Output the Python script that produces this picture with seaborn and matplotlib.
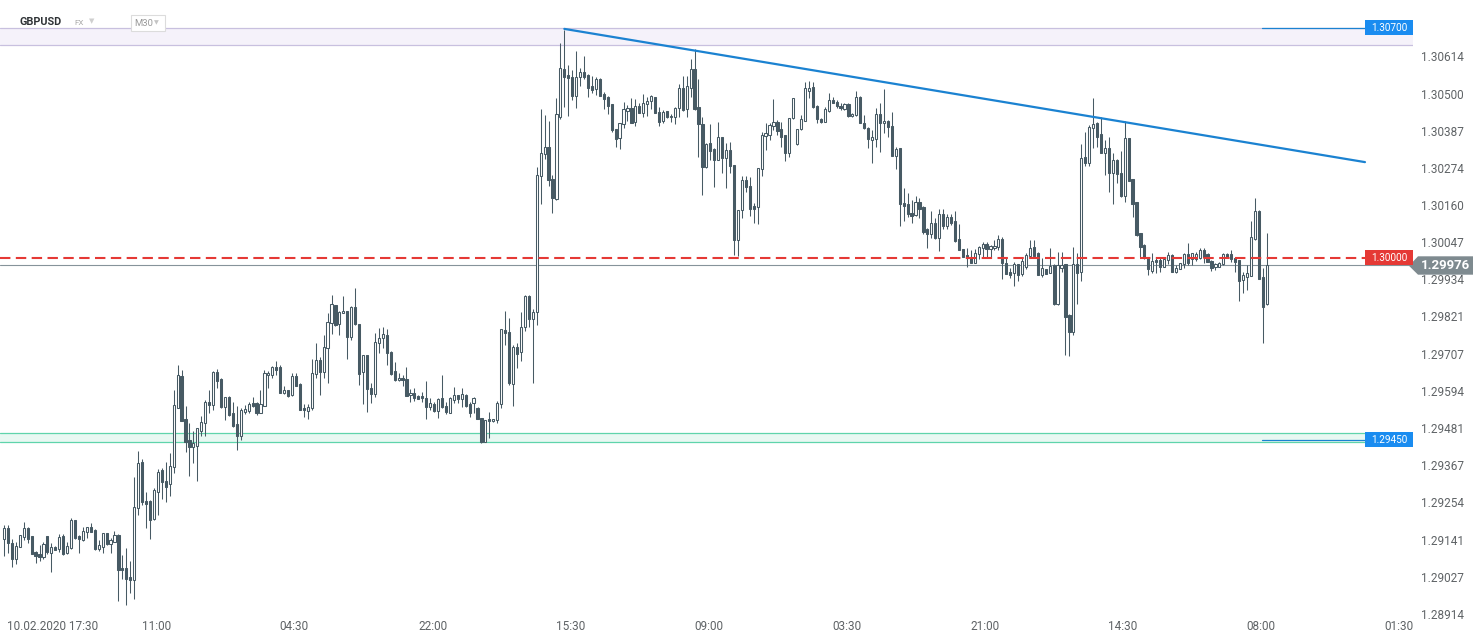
import numpy as np
import matplotlib
matplotlib.use("Agg")
import matplotlib.pyplot as plt
import seaborn as sns
from matplotlib.patches import Rectangle, Polygon
from matplotlib.transforms import blended_transform_factory

# ---------------- data (GBPUSD, M30 candles) ----------------
opens = [
1.29144,1.29175,1.29130,1.29083,1.29118,1.29150,1.29175,1.29151,1.29102,1.29096,
1.29089,1.29151,1.29099,1.29118,1.29111,1.29151,1.29099,1.29114,1.29199,1.29151,
1.29140,1.29165,1.29178,1.29170,1.29113,1.29119,1.29160,1.29128,1.29134,1.29155,
1.29054,1.29054,1.29027,1.29017,1.29238,1.29377,1.29258,1.29258,1.29205,1.29287,
1.29352,1.29318,1.29309,1.29363,1.29543,1.29639,1.29508,1.29444,1.29424,1.29427,
1.29473,1.29495,1.29560,1.29552,1.29651,1.29630,1.29546,1.29575,1.29526,1.29493,
1.29455,1.29531,1.29534,1.29557,1.29557,1.29528,1.29549,1.29641,1.29643,1.29666,
1.29666,1.29588,1.29596,1.29581,1.29638,1.29615,1.29542,1.29534,1.29541,1.29645,
1.29688,1.29651,1.29724,1.29800,1.29856,1.29797,1.29830,1.29837,1.29759,1.29849,
1.29798,1.29651,1.29702,1.29603,1.29585,1.29739,1.29754,1.29764,1.29713,1.29654,
1.29626,1.29634,1.29630,1.29581,1.29588,1.29578,1.29578,1.29572,1.29544,1.29553,
1.29534,1.29571,1.29548,1.29528,1.29567,1.29581,1.29569,1.29582,1.29554,1.29556,
1.29543,1.29510,1.29439,1.29508,1.29501,1.29505,1.29554,1.29780,1.29773,1.29615,
1.29727,1.29713,1.29788,1.29883,1.29812,1.29833,1.30249,1.30316,1.30337,1.30240,
1.30178,1.30429,1.30574,1.30557,1.30551,1.30493,1.30550,1.30567,1.30557,1.30524,
1.30513,1.30544,1.30499,1.30489,1.30467,1.30392,1.30365,1.30406,1.30448,1.30456,
1.30412,1.30463,1.30442,1.30468,1.30476,1.30489,1.30444,1.30416,1.30446,1.30428,
1.30429,1.30455,1.30516,1.30454,1.30518,1.30574,1.30458,1.30406,1.30277,1.30348,
1.30331,1.30297,1.30367,1.30305,1.30329,1.30281,1.30054,1.30144,1.30235,1.30218,
1.30157,1.30153,1.30269,1.30371,1.30374,1.30402,1.30412,1.30392,1.30374,1.30320,
1.30424,1.30345,1.30392,1.30417,1.30509,1.30521,1.30462,1.30422,1.30414,1.30448,
1.30480,1.30475,1.30462,1.30454,1.30468,1.30432,1.30434,1.30490,1.30411,1.30394,
1.30358,1.30362,1.30438,1.30409,1.30417,1.30401,1.30311,1.30333,1.30166,1.30163,
1.30135,1.30129,1.30169,1.30155,1.30087,1.30071,1.30105,1.30061,1.30132,1.30097,
1.30123,1.30112,1.30057,1.30025,1.30009,1.30003,1.29985,1.30010,1.30028,1.30042,
1.30025,1.30028,1.30031,1.30058,1.29985,1.29955,1.29952,1.29981,1.29950,1.29971,
1.30005,1.30032,1.30013,1.29947,1.29965,1.29954,1.29977,1.29859,1.29969,1.29981,
1.29825,1.29773,1.29980,1.29955,1.30306,1.30287,1.30394,1.30411,1.30376,1.30320,
1.30333,1.30259,1.30298,1.30259,1.30189,1.30364,1.30240,1.30169,1.30074,1.30039,
1.30001,1.29960,1.29993,1.29993,1.29972,1.29993,1.30008,1.29957,1.29965,1.29980,
1.30011,1.29996,1.29995,1.29998,1.30023,1.30011,1.29991,1.29971,1.29972,1.29980,
1.30011,1.30011,1.29998,1.29993,1.29932,1.29940,1.29945,1.30056,1.30142,1.29940,
1.29858]

highs = [
1.29185,1.29185,1.29143,1.29133,1.29155,1.29194,1.29178,1.29152,1.29106,1.29124,
1.29134,1.29152,1.29131,1.29121,1.29157,1.29158,1.29134,1.29206,1.29201,1.29156,
1.29178,1.29178,1.29191,1.29173,1.29140,1.29160,1.29161,1.29147,1.29166,1.29157,
1.29094,1.29116,1.29076,1.29332,1.29411,1.29386,1.29287,1.29262,1.29299,1.29356,
1.29359,1.29377,1.29405,1.29597,1.29673,1.29658,1.29548,1.29495,1.29472,1.29480,
1.29517,1.29566,1.29597,1.29655,1.29661,1.29633,1.29575,1.29578,1.29561,1.29548,
1.29541,1.29551,1.29561,1.29576,1.29561,1.29597,1.29658,1.29653,1.29670,1.29685,
1.29673,1.29609,1.29597,1.29649,1.29649,1.29618,1.29553,1.29553,1.29691,1.29739,
1.29696,1.29763,1.29831,1.29886,1.29857,1.29838,1.29883,1.29838,1.29853,1.29908,
1.29799,1.29702,1.29703,1.29617,1.29769,1.29785,1.29788,1.29782,1.29714,1.29681,
1.29648,1.29643,1.29668,1.29600,1.29603,1.29582,1.29590,1.29624,1.29571,1.29559,
1.29573,1.29642,1.29561,1.29576,1.29606,1.29582,1.29602,1.29583,1.29561,1.29576,
1.29546,1.29511,1.29505,1.29531,1.29508,1.29564,1.29782,1.29838,1.29815,1.29734,
1.29739,1.29835,1.29886,1.29885,1.29843,1.30277,1.30453,1.30435,1.30417,1.30252,
1.30486,1.30653,1.30694,1.30587,1.30572,1.30630,1.30579,1.30614,1.30558,1.30553,
1.30550,1.30546,1.30506,1.30491,1.30468,1.30393,1.30409,1.30475,1.30465,1.30486,
1.30483,1.30470,1.30499,1.30489,1.30495,1.30490,1.30458,1.30450,1.30447,1.30438,
1.30458,1.30528,1.30553,1.30553,1.30604,1.30635,1.30543,1.30429,1.30350,1.30407,
1.30333,1.30412,1.30368,1.30350,1.30353,1.30282,1.30145,1.30249,1.30249,1.30247,
1.30166,1.30272,1.30384,1.30411,1.30409,1.30484,1.30419,1.30414,1.30375,1.30425,
1.30486,1.30392,1.30435,1.30536,1.30538,1.30536,1.30464,1.30425,1.30460,1.30501,
1.30490,1.30480,1.30470,1.30472,1.30470,1.30440,1.30509,1.30493,1.30435,1.30399,
1.30389,1.30455,1.30470,1.30513,1.30419,1.30445,1.30336,1.30334,1.30211,1.30196,
1.30176,1.30188,1.30181,1.30156,1.30091,1.30142,1.30122,1.30148,1.30148,1.30132,
1.30132,1.30142,1.30103,1.30026,1.30028,1.30023,1.30025,1.30035,1.30049,1.30049,
1.30039,1.30054,1.30069,1.30064,1.30003,1.29968,1.29988,1.29982,1.30003,1.30015,
1.30054,1.30054,1.30018,1.29998,1.29966,1.30030,1.29981,1.30018,1.30018,1.29982,
1.29828,1.30031,1.30013,1.30346,1.30382,1.30404,1.30487,1.30414,1.30429,1.30358,
1.30369,1.30318,1.30299,1.30326,1.30416,1.30365,1.30241,1.30170,1.30075,1.30040,
1.30002,1.30013,1.30000,1.29998,1.30000,1.30016,1.30010,1.29978,1.29984,1.30015,
1.30044,1.30015,1.30017,1.30030,1.30028,1.30013,1.29992,1.29985,1.29988,1.30013,
1.30013,1.30023,1.29999,1.29994,1.29957,1.29978,1.30112,1.30183,1.30144,1.29968,
1.30074]

lows = [
1.29092,1.29101,1.29058,1.29067,1.29117,1.29140,1.29130,1.29097,1.29070,1.29077,
1.29083,1.29096,1.29043,1.29108,1.29103,1.29094,1.29097,1.29112,1.29143,1.29101,
1.29137,1.29147,1.29164,1.29109,1.29105,1.29101,1.29124,1.29101,1.29133,1.28955,
1.29021,1.28940,1.28979,1.28961,1.29217,1.29246,1.29177,1.29143,1.29202,1.29217,
1.29264,1.29254,1.29275,1.29343,1.29542,1.29502,1.29409,1.29335,1.29375,1.29320,
1.29457,1.29457,1.29528,1.29536,1.29604,1.29543,1.29505,1.29516,1.29483,1.29415,
1.29444,1.29524,1.29526,1.29546,1.29519,1.29527,1.29548,1.29604,1.29634,1.29643,
1.29588,1.29584,1.29574,1.29578,1.29609,1.29536,1.29515,1.29509,1.29536,1.29634,
1.29582,1.29634,1.29617,1.29766,1.29792,1.29764,1.29830,1.29691,1.29749,1.29796,
1.29612,1.29555,1.29531,1.29556,1.29576,1.29709,1.29724,1.29673,1.29642,1.29624,
1.29624,1.29610,1.29578,1.29559,1.29564,1.29569,1.29560,1.29507,1.29536,1.29531,
1.29512,1.29543,1.29524,1.29527,1.29558,1.29556,1.29546,1.29546,1.29515,1.29528,
1.29507,1.29434,1.29438,1.29450,1.29500,1.29495,1.29541,1.29734,1.29612,1.29549,
1.29665,1.29686,1.29777,1.29790,1.29617,1.29795,1.30163,1.30300,1.30218,1.30137,
1.30176,1.30422,1.30460,1.30433,1.30480,1.30455,1.30523,1.30543,1.30490,1.30503,
1.30495,1.30491,1.30452,1.30437,1.30384,1.30338,1.30331,1.30394,1.30417,1.30410,
1.30402,1.30440,1.30428,1.30432,1.30452,1.30441,1.30402,1.30411,1.30424,1.30412,
1.30406,1.30429,1.30448,1.30429,1.30490,1.30451,1.30306,1.30191,1.30274,1.30297,
1.30216,1.30296,1.30259,1.30211,1.30257,1.30008,1.30006,1.30120,1.30199,1.30128,
1.30105,1.30102,1.30249,1.30328,1.30358,1.30389,1.30374,1.30338,1.30295,1.30308,
1.30422,1.30343,1.30389,1.30416,1.30486,1.30457,1.30409,1.30410,1.30413,1.30445,
1.30470,1.30455,1.30450,1.30450,1.30429,1.30428,1.30433,1.30409,1.30392,1.30333,
1.30289,1.30336,1.30323,1.30379,1.30369,1.30310,1.30270,1.30097,1.30113,1.30125,
1.30106,1.30127,1.30120,1.30072,1.30028,1.30059,1.30058,1.30021,1.30087,1.30086,
1.30099,1.30049,1.30022,1.30002,1.29972,1.29984,1.29983,1.29997,1.30003,1.30001,
1.30003,1.30023,1.30023,1.29935,1.29949,1.29937,1.29915,1.29929,1.29944,1.29964,
1.30000,1.30003,1.29946,1.29940,1.29949,1.29953,1.29857,1.29857,1.29957,1.29703,
1.29700,1.29764,1.29859,1.29930,1.30280,1.30280,1.30333,1.30338,1.30319,1.30252,
1.30201,1.30163,1.30228,1.30186,1.30170,1.30233,1.30125,1.30067,1.30001,1.29995,
1.29947,1.29954,1.29952,1.29957,1.29971,1.29981,1.29956,1.29952,1.29964,1.29968,
1.29978,1.29978,1.29989,1.29996,1.29983,1.29987,1.29960,1.29962,1.29971,1.29978,
1.29998,1.29988,1.29957,1.29869,1.29891,1.29901,1.29944,1.30055,1.29934,1.29741,
1.29856]

closes = [
1.29175,1.29130,1.29081,1.29120,1.29154,1.29175,1.29142,1.29098,1.29091,1.29089,
1.29126,1.29103,1.29117,1.29110,1.29148,1.29098,1.29120,1.29201,1.29145,1.29142,
1.29166,1.29178,1.29165,1.29113,1.29124,1.29160,1.29126,1.29140,1.29154,1.29049,
1.29047,1.29022,1.29017,1.29240,1.29374,1.29256,1.29250,1.29201,1.29292,1.29347,
1.29317,1.29302,1.29364,1.29550,1.29641,1.29503,1.29437,1.29424,1.29434,1.29480,
1.29500,1.29560,1.29552,1.29652,1.29625,1.29546,1.29575,1.29521,1.29487,1.29455,
1.29536,1.29539,1.29553,1.29548,1.29528,1.29553,1.29649,1.29649,1.29666,1.29659,
1.29588,1.29596,1.29579,1.29638,1.29610,1.29537,1.29535,1.29544,1.29648,1.29688,
1.29652,1.29727,1.29803,1.29859,1.29795,1.29833,1.29837,1.29759,1.29849,1.29797,
1.29646,1.29702,1.29599,1.29585,1.29743,1.29754,1.29766,1.29709,1.29646,1.29626,
1.29634,1.29626,1.29579,1.29588,1.29573,1.29570,1.29571,1.29544,1.29556,1.29534,
1.29569,1.29544,1.29531,1.29572,1.29581,1.29570,1.29584,1.29549,1.29528,1.29571,
1.29508,1.29439,1.29505,1.29501,1.29508,1.29556,1.29782,1.29769,1.29617,1.29727,
1.29706,1.29788,1.29883,1.29813,1.29833,1.30252,1.30318,1.30337,1.30237,1.30181,
1.30437,1.30577,1.30550,1.30546,1.30493,1.30551,1.30567,1.30550,1.30518,1.30511,
1.30544,1.30493,1.30484,1.30463,1.30388,1.30361,1.30409,1.30452,1.30456,1.30411,
1.30463,1.30442,1.30470,1.30477,1.30493,1.30442,1.30414,1.30445,1.30428,1.30433,
1.30455,1.30516,1.30449,1.30523,1.30574,1.30452,1.30406,1.30277,1.30345,1.30325,
1.30298,1.30367,1.30303,1.30329,1.30280,1.30054,1.30145,1.30235,1.30216,1.30149,
1.30149,1.30272,1.30374,1.30381,1.30404,1.30412,1.30387,1.30369,1.30318,1.30425,
1.30486,1.30392,1.30422,1.30516,1.30516,1.30458,1.30422,1.30414,1.30452,1.30480,
1.30472,1.30462,1.30455,1.30468,1.30432,1.30438,1.30490,1.30409,1.30394,1.30361,
1.30369,1.30438,1.30409,1.30417,1.30397,1.30311,1.30330,1.30163,1.30158,1.30132,
1.30127,1.30169,1.30149,1.30079,1.30071,1.30105,1.30059,1.30132,1.30097,1.30123,
1.30106,1.30052,1.30023,1.30003,1.29999,1.29985,1.30013,1.30031,1.30042,1.30025,
1.30035,1.30035,1.30058,1.29983,1.29950,1.29947,1.29981,1.29947,1.29990,1.30007,
1.30030,1.30005,1.29947,1.29968,1.29950,1.29975,1.29859,1.29977,1.29977,1.29820,
1.29774,1.29980,1.29952,1.30303,1.30287,1.30397,1.30406,1.30369,1.30320,1.30333,
1.30257,1.30298,1.30254,1.30188,1.30364,1.30234,1.30163,1.30069,1.30033,1.30001,
1.29964,1.29991,1.29986,1.29972,1.29995,1.30008,1.29957,1.29968,1.29983,1.30011,
1.29983,1.30013,1.30011,1.30023,1.30003,1.29988,1.29968,1.29981,1.29985,1.30011,
1.30003,1.29995,1.29988,1.29930,1.29947,1.29952,1.30062,1.30142,1.29935,1.29850,
1.29976]

price_ticks = [1.28914, 1.29027, 1.29141, 1.29254, 1.29367, 1.29481, 1.29594, 1.29707,
               1.29821, 1.29934, 1.30047, 1.30160, 1.30274, 1.30387, 1.30500, 1.30614]
time_labels = ["10.02.2020 17:30", "11:00", "04:30", "22:00", "15:30", "09:00",
               "03:30", "21:00", "14:30", "08:00", "01:30"]
time_tick_bars = [12.4, 38.6, 73.6, 108.6, 143.6, 178.6, 213.6, 248.6, 283.6, 318.6, 353.6]

resistance_zone = [1.30648, 1.30700]
support_zone = [1.29437, 1.29467]
resistance_level = 1.30700
support_level = 1.29445
support_label = "1.29450"
round_level = 1.30000
last_price = 1.29976
trend_x = [142, 344.9]
trend_y = [1.30697, 1.30291]
level_line_x = [318.8, 344.9]

# ---------------- style ----------------
sns.set_theme(style="white")
plt.rcParams['font.family'] = ['Roboto', 'DejaVu Sans']

CANDLE = '#475a64'
BLUE = '#1b82d1'
RED = '#e53935'
GREY = '#86939a'
TXT = '#5f6366'

W, H = 1482, 643
fig = plt.figure(figsize=(W / 100, H / 100), dpi=100)
fig.patch.set_facecolor('white')
ax = fig.add_axes([0, 28 / H, 1413 / W, 615 / H])
ax.set_facecolor('white')

x0, x1 = -1.014, 357.07
ax.set_xlim(x0, x1)
ax.set_ylim(1.28911, 1.30785)

# zones
ax.axhspan(resistance_zone[0], resistance_zone[1], color='#f5f2fa', lw=0, zorder=0.5)
for v in resistance_zone:
    ax.axhline(v, color='#c8c0df', lw=0.9, zorder=0.6)
ax.axhspan(support_zone[0], support_zone[1], color='#e8f8f2', lw=0, zorder=0.5)
for v in support_zone:
    ax.axhline(v, color='#5fd4ab', lw=0.9, zorder=0.6)

# last-price line
ax.axhline(last_price, color=GREY, lw=0.8, zorder=1)

# candles
o = np.array(opens); h = np.array(highs); l = np.array(lows); c = np.array(closes)
xs = np.arange(len(c))
up = c >= o
ax.vlines(xs, l, h, color=CANDLE, lw=0.75, zorder=3)
bottom = np.minimum(o, c)
height = np.maximum(np.abs(c - o), 0.00002)
ax.bar(xs[up], height[up], bottom=bottom[up], width=0.55, facecolor='white',
       edgecolor=CANDLE, linewidth=0.75, zorder=4)
ax.bar(xs[~up], height[~up], bottom=bottom[~up], width=0.55, facecolor=CANDLE,
       edgecolor=CANDLE, linewidth=0.75, zorder=4)

# round level (red dashed)
ax.plot([x0, trend_x[1]], [round_level, round_level], color=RED, lw=1.5,
        ls=(0, (5, 2.6)), zorder=5)

# trend line
sns.lineplot(x=trend_x, y=trend_y, ax=ax, color=BLUE, lw=1.6, zorder=6)

# short horizontal levels
ax.plot(level_line_x, [resistance_level] * 2, color=BLUE, lw=0.9, zorder=6)
ax.plot(level_line_x, [support_level] * 2, color=BLUE, lw=0.9, zorder=6)

# current price tag (right of the plot, outside axes)
tr = blended_transform_factory(fig.transFigure, ax.transData)
gh = 0.00028
poly = Polygon([(1409 / W, last_price - 0.00001), (1418 / W, last_price + gh),
                (1473 / W, last_price + gh), (1473 / W, last_price - gh),
                (1418 / W, last_price - gh)], closed=True, transform=tr,
               facecolor='#7e8a8f', edgecolor='none', clip_on=False, zorder=20)
ax.add_patch(poly)
ax.text(1445 / W, last_price, "1.29976", transform=tr, color='white', fontsize=9.5,
        fontweight='bold', ha='center', va='center', clip_on=False, zorder=21)

# price label boxes inside plot
bh = 0.00046
for val, txt, col in [(resistance_level, "1.30700", '#1a8cf0'),
                      (round_level, "1.30000", RED),
                      (support_level, support_label, '#1a8cf0')]:
    ax.add_patch(Rectangle((trend_x[1], val - bh / 2), x1 - trend_x[1], bh,
                           facecolor=col, edgecolor='none', zorder=22, clip_on=False))
    ax.text((trend_x[1] + x1) / 2, val, txt, color='white', fontsize=7.2,
            ha='center', va='center', zorder=23)

# axes ticks
ax.yaxis.tick_right()
ax.set_yticks(price_ticks)
ax.set_yticklabels([f"{v:.5f}" for v in price_ticks])
ax.set_xticks(time_tick_bars)
ax.set_xticklabels(time_labels)
ax.tick_params(axis='y', length=0, pad=6, labelsize=8.5, labelcolor=TXT)
ax.tick_params(axis='x', length=0, pad=3.5, labelsize=8.5, labelcolor=TXT)
for s in ax.spines.values():
    s.set_visible(False)
ax.grid(False)
ax.set_xlabel('')
ax.set_ylabel('')

# header
def fy(py):
    return 1 - py / H
fig.text(20 / W, fy(22), "GBPUSD", fontsize=7.8, fontweight='bold', color='#2f3336',
         va='center', ha='left', zorder=30)
fig.text(74 / W, fy(23), "FX", fontsize=5.8, color='#a8a8a8', va='center', ha='left')
fig.text(89 / W, fy(21), "▼", fontsize=5, color='#cfcfcf', va='center', ha='left',
         family='DejaVu Sans')
fig.patches.append(Rectangle((131 / W, fy(31)), 34 / W, 16 / H, transform=fig.transFigure,
                             facecolor='white', edgecolor='#dcdcdc', lw=0.8, zorder=25))
fig.text(134 / W, fy(23), "M30", fontsize=6.8, color='#9a9a9a', va='center', ha='left',
         zorder=30)
fig.text(154 / W, fy(22.5), "▼", fontsize=4.5, color='#c4c4c4', va='center', ha='left',
         family='DejaVu Sans', zorder=30)

fig.savefig("out.png", dpi=100, facecolor='white')
